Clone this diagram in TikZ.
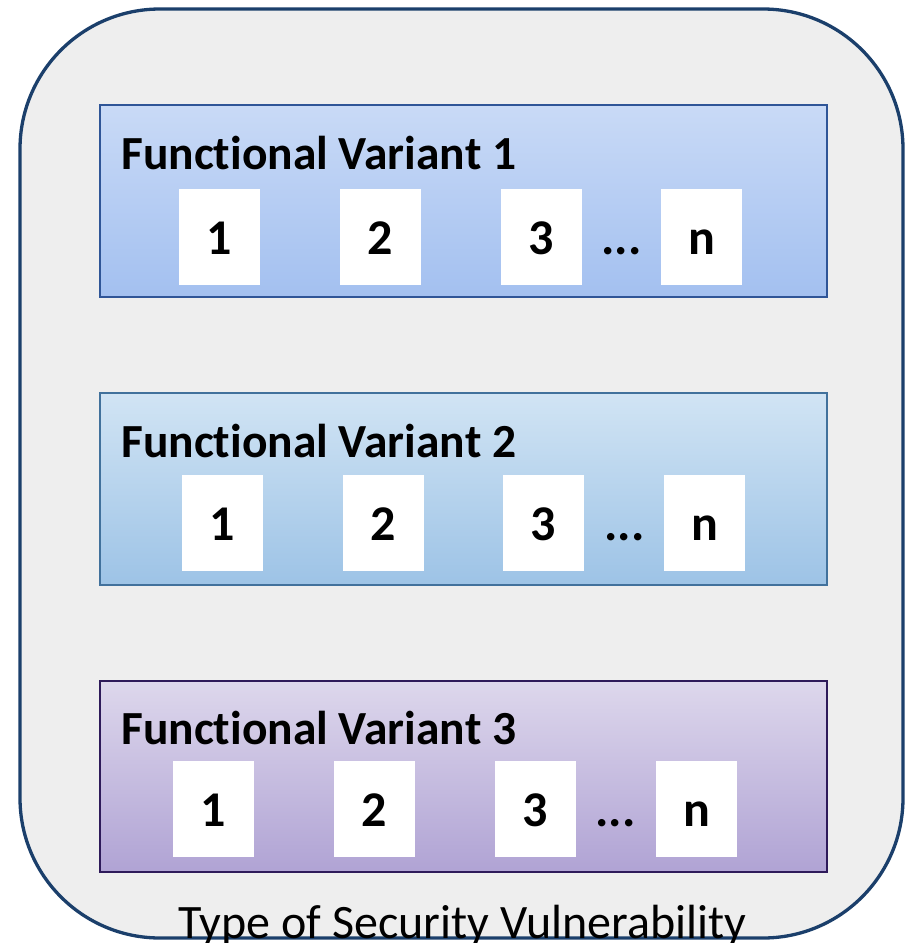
\documentclass[tikz,border=0pt]{standalone}
\usepackage{fontspec}
\setmainfont{Carlito}[Ligatures=NoCommon]
\begin{document}
\begin{tikzpicture}[x=1pt,y=-1pt,
  outerbox/.style={draw=outerline,line width=3.3pt,fill=outerfill,rounded corners=140pt},
  variant/.style={line width=1.5pt},
  itembox/.style={fill=white,draw=none,minimum width=81pt,minimum height=96pt,inner sep=0pt,text height=35pt,text depth=0pt,font=\fontsize{50}{54}\selectfont\bfseries},
  title/.style={anchor=base west,inner sep=0pt,font=\fontsize{47.5}{52}\selectfont\bfseries},
  dots/.style={anchor=base,inner sep=0pt,font=\fontsize{50}{54}\selectfont\bfseries}]
\definecolor{outerline}{HTML}{1B3F6B}
\definecolor{outerfill}{HTML}{EEEEEE}
\definecolor{blineA}{HTML}{2F5597}
\definecolor{blineB}{HTML}{41719C}
\definecolor{plineC}{HTML}{2E1A5A}
\useasboundingbox (0,0) rectangle (911,943);
\draw[outerbox] (20,9) rectangle (903,938);
% variant boxes
\shade[top color={rgb,255:red,201;green,218;blue,246},bottom color={rgb,255:red,163;green,192;blue,240}] (100,105) rectangle (827,297);
\draw[variant,draw=blineA] (100,105) rectangle (827,297);
\shade[top color={rgb,255:red,209;green,228;blue,244},bottom color={rgb,255:red,157;green,195;blue,230}] (100,393) rectangle (827,585);
\draw[variant,draw=blineB] (100,393) rectangle (827,585);
\shade[top color={rgb,255:red,221;green,215;blue,236},bottom color={rgb,255:red,176;green,163;blue,212}] (100,681) rectangle (827,872);
\draw[variant,draw=plineC] (100,681) rectangle (827,872);
% titles
\node[title] (t1) at (121,169) {Functional Variant 1};
\node[title] (t2) at (121,457) {Functional Variant 2};
\node[title] (t3) at (121,744) {Functional Variant 3};
% row 1
\node[itembox] (a1) at (219.5,237) {1};
\node[itembox] (a2) at (380,237) {2};
\node[itembox] (a3) at (541,237) {3};
\node[dots] (ad) at (621.5,254) {...};
\node[itembox] (an) at (701.5,237) {n};
% row 2
\node[itembox] (b1) at (222.5,522.5) {1};
\node[itembox] (b2) at (383,522.5) {2};
\node[itembox] (b3) at (543.5,522.5) {3};
\node[dots] (bd) at (624.5,540) {...};
\node[itembox] (bn) at (704.5,522.5) {n};
% row 3
\node[itembox] (c1) at (213.5,809) {1};
\node[itembox] (c2) at (374,809) {2};
\node[itembox] (c3) at (535.5,809) {3};
\node[dots] (cd) at (615.5,826) {...};
\node[itembox] (cn) at (696.5,809) {n};
% label
\node[anchor=base,inner sep=0pt,font=\fontsize{48}{52}\selectfont] (lbl) at (462.5,938) {Type of Security Vulnerability};
\end{tikzpicture}
\end{document}
